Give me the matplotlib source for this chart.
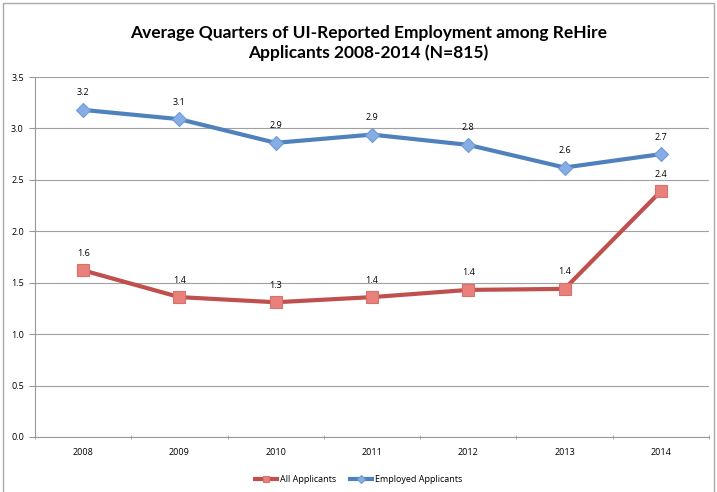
import matplotlib.pyplot as plt
from matplotlib.patches import Rectangle

plt.rcParams['font.family'] = ['Open Sans', 'DejaVu Sans']

years = ['2008', '2009', '2010', '2011', '2012', '2013', '2014']
all_applicants = [1.62, 1.36, 1.31, 1.36, 1.43, 1.44, 2.39]
employed = [3.18, 3.09, 2.86, 2.94, 2.84, 2.62, 2.75]
all_labels = ['1.6', '1.4', '1.3', '1.4', '1.4', '1.4', '2.4']
emp_labels = ['3.2', '3.1', '2.9', '2.9', '2.8', '2.6', '2.7']

fig = plt.figure(figsize=(7.17, 4.92), dpi=100)
ax = fig.add_axes([35/717, 55/492, 674/717, 360/492])

x = list(range(len(years)))
ax.plot(x, all_applicants, color='#C0504D', lw=3, marker='s', ms=8,
        mfc='#E8807C', mec='#D9706C', mew=0.8, label='All Applicants', zorder=3)
ax.plot(x, employed, color='#4F81BD', lw=3, marker='D', ms=7,
        mfc='#86AEE4', mec='#6F9AD6', mew=0.8, label='Employed Applicants', zorder=3)

for i in x:
    ax.annotate(all_labels[i], (i, all_applicants[i]), xytext=(0, 9),
                textcoords='offset points', ha='center', va='bottom', fontsize=6.5)
    ax.annotate(emp_labels[i], (i, employed[i]), xytext=(0, 9),
                textcoords='offset points', ha='center', va='bottom', fontsize=6.5)

ax.set_xlim(-0.5, len(years) - 0.5)
ax.set_ylim(0, 3.5)
ax.set_yticks([0, 0.5, 1.0, 1.5, 2.0, 2.5, 3.0, 3.5])
ax.set_yticklabels(['%.1f' % v for v in ax.get_yticks()], fontsize=6.5)
ax.set_xticks(x)
ax.set_xticklabels(years, fontsize=6.5)
ax.set_xticks([i - 0.5 for i in range(len(years) + 1)], minor=True)
ax.tick_params(axis='x', which='major', length=0, pad=8)
ax.tick_params(axis='x', which='minor', length=3, color='#999999', direction='inout')
ax.tick_params(axis='y', length=4, color='#999999', direction='out', pad=4)
ax.grid(axis='y', color='#A0A0A0', lw=0.8)
ax.set_axisbelow(True)
for s in ['top', 'right']:
    ax.spines[s].set_visible(False)
for s in ['left', 'bottom']:
    ax.spines[s].set_color('#999999')
    ax.spines[s].set_linewidth(0.8)

fig.text(0.514, 0.913, 'Average Quarters of UI-Reported Employment among ReHire\nApplicants 2008-2014 (N=815)',
         ha='center', va='center', fontsize=12.5, fontweight='bold', linespacing=1.25,
         family=['Lato', 'DejaVu Sans'])

fig.legend(loc='lower center', bbox_to_anchor=(0.5, 0.0), ncol=2, frameon=False,
           fontsize=6.5, handlelength=2.5, handletextpad=0.3, columnspacing=1.5,
           markerscale=0.6)

fig.patches.append(Rectangle((3/717, -0.1), 711/717, 1.1 - 3/492, transform=fig.transFigure,
                             fill=False, ec='#AAAAAA', lw=1))

fig.savefig('out.png', dpi=100)
